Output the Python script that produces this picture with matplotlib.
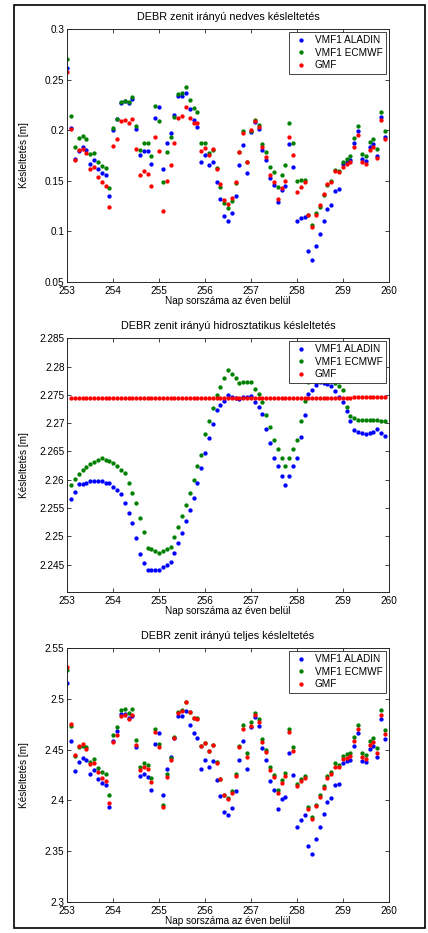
import numpy as np
import matplotlib
matplotlib.use("Agg")
import matplotlib.pyplot as plt
from matplotlib.ticker import FormatStrFormatter
from matplotlib.patches import Rectangle

plt.rcParams["font.family"] = ["Liberation Sans", "DejaVu Sans"]

# 2-hour epochs, day of year 253.0 ... 259.917
epochs = 253 + np.arange(84) * 2 / 24

nan = np.nan

wet_aladin = [
    0.2614, 0.2026, 0.1719, 0.1798, 0.1831, 0.1808, 0.1666, 0.1705, 0.1620, 0.1580, 0.1557, 0.1352,
    0.2003, 0.2108, 0.2270, 0.2287, 0.2267, 0.2306, 0.2013, 0.1752, 0.1795, 0.1791, 0.1666, 0.2122,
    0.2234, 0.1616, 0.1870, 0.1976, 0.2148, 0.2336, 0.2340, 0.2369, 0.2207, 0.2102, 0.2029, 0.1686,
    0.1758, 0.1659, 0.1689, 0.1484, 0.1316, 0.1154, 0.1105, 0.1178, 0.1349, 0.1659, 0.1851, 0.1573,
    0.1986, 0.2082, 0.2009, 0.1801, 0.1705, 0.1527, 0.1458, 0.1286, 0.1405, 0.1448, 0.1861, 0.1636,
    0.1101, 0.1134, 0.1144, 0.0807, 0.0715, 0.0857, 0.0969, 0.1098, 0.1220, 0.1260, 0.1401, 0.1418,
    0.1662, 0.1685, 0.1705, 0.1877, 0.1990, 0.1715, 0.1699, 0.1831, 0.1860, 0.1745, 0.2128, 0.1930,
]
wet_ecmwf = [
    0.2709, 0.2145, 0.1838, 0.1923, 0.1947, 0.1913, 0.1762, 0.1778, 0.1689, 0.1649, 0.1630, 0.1428,
    0.2026, 0.2108, 0.2280, 0.2293, 0.2280, 0.2333, 0.2046, 0.1801, 0.1874, 0.1874, 0.1745, 0.2240,
    0.2095, 0.1491, 0.1788, 0.1933, 0.2135, 0.2356, 0.2366, 0.2425, 0.2300, 0.2217, 0.2184, 0.1877,
    0.1877, 0.1778, 0.1805, 0.1630, 0.1442, 0.1277, 0.1230, 0.1303, 0.1480, 0.1782, 0.1990, 0.1685,
    0.1990, 0.2102, 0.2052, 0.1867, 0.1785, 0.1640, 0.1587, 0.1442, 0.1560, 0.1653, 0.2075, 0.1877,
    0.1494, 0.1507, 0.1507, 0.1165, 0.1061, 0.1177, 0.1243, 0.1356, 0.1460, 0.1494, 0.1603, 0.1596,
    0.1685, 0.1719, 0.1745, 0.1920, 0.2040, 0.1762, 0.1748, 0.1887, 0.1910, 0.1818, 0.2184, 0.1996,
]
wet_gmf = [
    0.2581, 0.2016, 0.1705, 0.1801, 0.1818, 0.1775, 0.1620, 0.1636, 0.1537, 0.1484, 0.1451, 0.1240,
    0.1841, 0.1913, 0.2095, 0.2102, 0.2069, 0.2115, 0.1811, 0.1560, 0.1596, 0.1570, 0.1448, 0.1933,
    0.1791, 0.1197, 0.1497, 0.1656, 0.1874, 0.2118, 0.2145, 0.2227, 0.2125, 0.2072, 0.2069, 0.1795,
    0.1828, 0.1758, 0.1811, 0.1617, 0.1468, 0.1310, 0.1270, 0.1326, 0.1491, 0.1782, 0.1970, 0.1690,
    0.2003, 0.2089, 0.2036, 0.1834, 0.1732, 0.1554, 0.1484, 0.1323, 0.1428, 0.1494, 0.1930, 0.1755,
    0.1392, 0.1441, 0.1484, 0.1160, 0.1045, 0.1160, 0.1260, 0.1369, 0.1468, 0.1484, 0.1596, 0.1586,
    0.1639, 0.1666, 0.1685, 0.1838, 0.1956, 0.1682, 0.1666, 0.1801, 0.1831, 0.1722, 0.2098, 0.1910,
]

hyd_aladin = [
    nan, 2.2566, 2.2579, 2.2592, 2.2593, 2.2594, 2.2597, 2.2597, 2.2598, 2.2598, 2.2595, 2.2594,
    2.2588, 2.2581, 2.2575, 2.2559, 2.2541, 2.2524, 2.2497, 2.2469, 2.2452, 2.2441, 2.2441, 2.2441,
    2.2441, 2.2445, 2.2449, 2.2455, 2.2471, 2.2489, 2.2506, 2.2527, 2.2547, 2.2568, 2.2594, 2.2621,
    2.2647, 2.2674, 2.2698, 2.2724, 2.2732, 2.2740, 2.2749, 2.2747, 2.2745, 2.2743, 2.2746, 2.2747,
    2.2748, 2.2737, 2.2728, 2.2717, 2.2690, 2.2665, 2.2639, 2.2624, 2.2607, 2.2591, 2.2607, 2.2624,
    2.2639, 2.2676, 2.2714, 2.2751, 2.2758, 2.2767, 2.2773, 2.2771, 2.2769, 2.2766, 2.2756, 2.2747,
    2.2737, 2.2721, 2.2704, 2.2688, 2.2684, 2.2682, 2.2680, 2.2683, 2.2685, 2.2689, 2.2683, 2.2678,
]
hyd_ecmwf = [
    nan, 2.2591, 2.2601, 2.2611, 2.2617, 2.2623, 2.2628, 2.2632, 2.2634, 2.2638, 2.2635, 2.2633,
    2.2629, 2.2624, 2.2618, 2.2612, 2.2594, 2.2576, 2.2559, 2.2533, 2.2507, 2.2479, 2.2477, 2.2474,
    2.2471, 2.2474, 2.2477, 2.2481, 2.2498, 2.2517, 2.2536, 2.2556, 2.2576, 2.2599, 2.2625, 2.2643,
    2.2680, 2.2703, 2.2726, 2.2750, 2.2764, 2.2780, 2.2794, 2.2787, 2.2779, 2.2771, 2.2772, 2.2772,
    2.2773, 2.2761, 2.2751, 2.2738, 2.2715, 2.2693, 2.2671, 2.2654, 2.2639, 2.2624, 2.2639, 2.2654,
    2.2670, 2.2703, 2.2739, 2.2773, 2.2780, 2.2785, 2.2795, 2.2790, 2.2784, 2.2776, 2.2771, 2.2766,
    2.2759, 2.2729, 2.2713, 2.2709, 2.2706, 2.2705, 2.2705, 2.2706, 2.2706, 2.2705, 2.2704, 2.2703,
]
hyd_gmf = [
    nan, 2.27436, 2.27436, 2.27436, 2.27436, 2.27436, 2.27436, 2.27436, 2.27436, 2.27436, 2.27436, 2.27436,
    2.27440, 2.27448, 2.27450, 2.27450, 2.27450, 2.27450, 2.27450, 2.27450, 2.27450, 2.27450, 2.27450, 2.27450,
    2.27450, 2.27450, 2.27450, 2.27450, 2.27450, 2.27450, 2.27450, 2.27450, 2.27450, 2.27450, 2.27450, 2.27450,
    2.27450, 2.27450, 2.27450, 2.27450, 2.27450, 2.27450, 2.27450, 2.27450, 2.27450, 2.27450, 2.27450, 2.27450,
    2.27450, 2.27450, 2.27450, 2.27450, 2.27450, 2.27450, 2.27450, 2.27450, 2.27450, 2.27450, 2.27450, 2.27450,
    2.27450, 2.27450, 2.27450, 2.27450, 2.27450, 2.27450, 2.27450, 2.27450, 2.27450, 2.27450, 2.27450, 2.27450,
    2.27450, 2.27450, 2.27452, 2.27455, 2.27458, 2.27460, 2.27468, 2.27470, 2.27470, 2.27470, 2.27470, 2.27470,
]

tot_aladin = [
    2.5161, 2.4586, 2.4289, 2.4378, 2.4418, 2.4398, 2.4257, 2.4299, 2.4207, 2.4171, 2.4148, 2.3937,
    2.4589, 2.4684, 2.4849, 2.4849, 2.4810, 2.4829, 2.4523, 2.4237, 2.4257, 2.4227, 2.4099, 2.4553,
    2.4661, 2.4049, 2.4309, 2.4424, 2.4612, 2.4832, 2.4832, 2.4885, 2.4747, 2.4661, 2.4618, 2.4306,
    2.4400, 2.4326, 2.4385, 2.4204, 2.4045, 2.3888, 2.3852, 2.3921, 2.4095, 2.4395, 2.4589, 2.4313,
    2.4727, 2.4826, 2.4737, 2.4513, 2.4395, 2.4191, 2.4102, 2.3911, 2.4013, 2.4036, 2.4464, 2.4253,
    2.3740, 2.3806, 2.3855, 2.3553, 2.3474, 2.3618, 2.3740, 2.3865, 2.3987, 2.4020, 2.4155, 2.4158,
    2.4365, 2.4385, 2.4398, 2.4539, 2.4668, 2.4391, 2.4375, 2.4510, 2.4536, 2.4431, 2.4799, 2.4602,
]
tot_ecmwf = [
    2.5286, 2.4734, 2.4434, 2.4530, 2.4540, 2.4523, 2.4378, 2.4408, 2.4322, 2.4283, 2.4257, 2.4053,
    2.4645, 2.4720, 2.4888, 2.4898, 2.4862, 2.4905, 2.4595, 2.4326, 2.4372, 2.4345, 2.4224, 2.4701,
    2.4553, 2.3954, 2.4257, 2.4414, 2.4625, 2.4872, 2.4895, 2.4975, 2.4870, 2.4812, 2.4809, 2.4536,
    2.4565, 2.4490, 2.4546, 2.4380, 2.4210, 2.4057, 2.4024, 2.4090, 2.4255, 2.4535, 2.4743, 2.4464,
    2.4770, 2.4865, 2.4799, 2.4605, 2.4500, 2.4329, 2.4253, 2.4102, 2.4200, 2.4273, 2.4704, 2.4523,
    2.4164, 2.4214, 2.4243, 2.3934, 2.3832, 2.3957, 2.4049, 2.4145, 2.4240, 2.4276, 2.4368, 2.4352,
    2.4437, 2.4457, 2.4470, 2.4628, 2.4743, 2.4467, 2.4450, 2.4582, 2.4612, 2.4513, 2.4888, 2.4694,
]
tot_gmf = [
    2.5319, 2.4753, 2.4447, 2.4540, 2.4556, 2.4510, 2.4359, 2.4372, 2.4276, 2.4224, 2.4194, 2.3977,
    2.4579, 2.4648, 2.4832, 2.4839, 2.4806, 2.4845, 2.4546, 2.4303, 2.4332, 2.4309, 2.4184, 2.4674,
    2.4530, 2.3937, 2.4234, 2.4395, 2.4612, 2.4859, 2.4882, 2.4967, 2.4868, 2.4809, 2.4806, 2.4536,
    2.4563, 2.4490, 2.4546, 2.4365, 2.4213, 2.4049, 2.4016, 2.4075, 2.4240, 2.4523, 2.4707, 2.4430,
    2.4733, 2.4839, 2.4776, 2.4579, 2.4477, 2.4299, 2.4227, 2.4069, 2.4168, 2.4240, 2.4671, 2.4490,
    2.4141, 2.4194, 2.4225, 2.3915, 2.3819, 2.3940, 2.4033, 2.4122, 2.4217, 2.4260, 2.4326, 2.4326,
    2.4405, 2.4421, 2.4437, 2.4582, 2.4704, 2.4424, 2.4410, 2.4549, 2.4576, 2.4470, 2.4839, 2.4651,
]

series_names = ["VMF1 ALADIN", "VMF1 ECMWF", "GMF"]
series_colors = ["#0000ff", "#008000", "#ff0000"]

panels = [
    ("DEBR zenit irányú nedves késleltetés", (wet_aladin, wet_ecmwf, wet_gmf),
     (0.05, 0.3), [0.05, 0.1, 0.15, 0.2, 0.25, 0.3]),
    ("DEBR zenit irányú hidrosztatikus késleltetés", (hyd_aladin, hyd_ecmwf, hyd_gmf),
     (2.2401, 2.285), [2.245, 2.25, 2.255, 2.26, 2.265, 2.27, 2.275, 2.28, 2.285]),
    ("DEBR zenit irányú teljes késleltetés", (tot_aladin, tot_ecmwf, tot_gmf),
     (2.3, 2.55), [2.3, 2.35, 2.4, 2.45, 2.5, 2.55]),
]

W, H = 428, 933
fig = plt.figure(figsize=(W / 100, H / 100), dpi=100)

# axes boxes in pixels: (left, top, right, bottom)
boxes = [(67.3, 29.3, 388.7, 281.7), (67.3, 338.3, 388.7, 592.3), (67.3, 648.3, 388.7, 901.7)]
edge = "#262626"
fs = 7.2

for (title, data, ylim, yticks), (l, t, r, b) in zip(panels, boxes):
    ax = fig.add_axes([l / W, 1 - b / H, (r - l) / W, (b - t) / H])
    for vals, name, col in zip(data, series_names, series_colors):
        ax.plot(epochs, vals, ls="none", marker="o", ms=3.1, mew=0,
                color=col, label=name)
    ax.set_xlim(253, 260)
    ax.set_ylim(*ylim)
    ax.set_xticks(range(253, 261))
    ax.set_yticks(yticks)
    ax.yaxis.set_major_formatter(FormatStrFormatter("%g"))
    ax.tick_params(direction="in", top=True, right=True, length=3, width=0.6,
                   color=edge, labelcolor="black", labelsize=fs)
    ax.tick_params(axis="x", pad=3)
    ax.tick_params(axis="y", pad=2)
    for s in ax.spines.values():
        s.set_color(edge)
        s.set_linewidth(0.7)
    ax.set_title(title, fontsize=7.8, pad=7)
    ax.set_xlabel("Nap sorszáma az éven belül", fontsize=fs, labelpad=0)
    ax.set_ylabel("Késleltetés [m]", fontsize=fs)
    # same label column in every panel (right edge about 29 px from the left)
    ax.yaxis.set_label_coords((29 - l) / (r - l), 0.5)
    leg = ax.legend(loc="upper right", fontsize=fs, frameon=True, fancybox=False,
                    framealpha=1, borderaxespad=0.25, handlelength=1.6,
                    handletextpad=0.6, labelspacing=0.25, borderpad=0.35)
    leg.get_frame().set_edgecolor(edge)
    leg.get_frame().set_linewidth(0.6)

# outer frame around the whole figure
fig.patches.append(Rectangle((14 / W, 1 - 928 / H), (425 - 14) / W, (928 - 5) / H,
                             transform=fig.transFigure, fill=False,
                             edgecolor="black", linewidth=1.2))

fig.savefig("out.png", dpi=100)
